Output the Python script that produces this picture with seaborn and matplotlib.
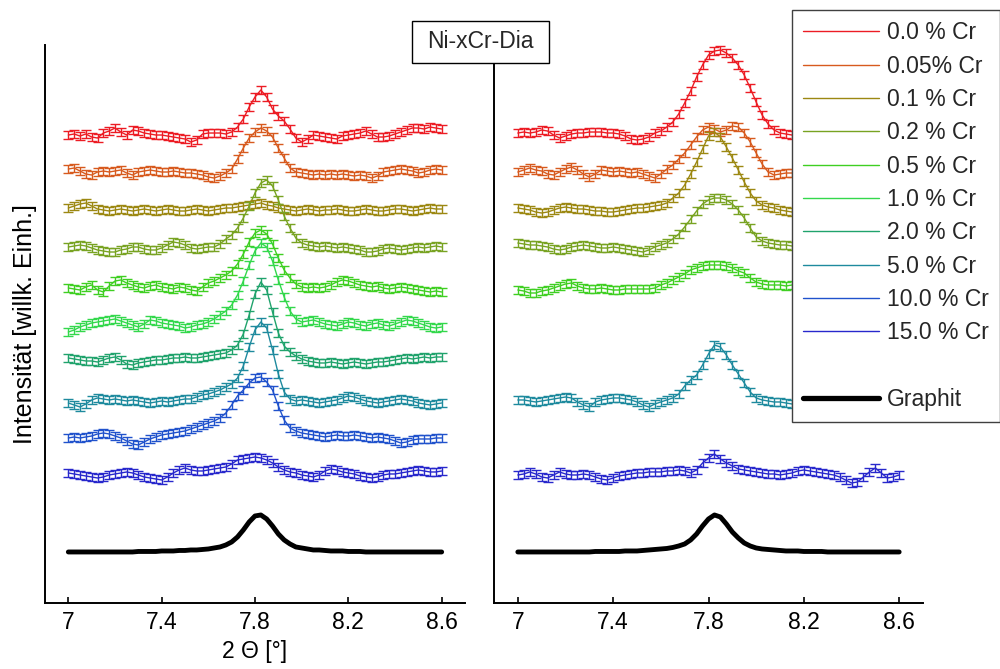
import numpy as np
import pandas as pd
import seaborn as sns
import matplotlib
matplotlib.use("Agg")
import matplotlib.pyplot as plt
from matplotlib.lines import Line2D
from matplotlib.patches import Rectangle

# 2-theta sampling grid (degrees)
THETA = np.round(7.0 + 0.025 * np.arange(65), 3)

SERIES = ["0.0 % Cr", "0.05% Cr", "0.1 % Cr", "0.2 % Cr", "0.5 % Cr",
          "1.0 % Cr", "2.0 % Cr", "5.0 % Cr", "10.0 % Cr", "15.0 % Cr"]
COLORS = ["#ec1c24", "#d75a1e", "#9c8812", "#78a322", "#3fcf22",
          "#33d84c", "#20a36c", "#1e8a9e", "#2052cc", "#2828cc"]

XTICKS = [7.0, 7.4, 7.8, 8.2, 8.6]
XTICKLABELS = ["7", "7.4", "7.8", "8.2", "8.6"]

# ---- left panel: intensity relative to each trace's baseline (arb. units)
L_00 = [0,1,-1,1,-2,-3,2,4,7,3, 0,5,4,2,1,0,0,-1,-2,-3, -4,-7,-5,1,2,2,2,1,3,8,
        16,28,38,45,38,26,19,14,6,-3, -7,-4,0,-1,-2,-3,-4,-1,0,1, 2,4,1,-2,-2,-1,1,3,5,7, 7,6,8,7,6]
L_005 = [3,4,1,-2,-3,0,1,0,1,2, -1,-3,0,1,2,1,0,0,1,0, -1,-1,-2,-3,-5,-6,-4,-1,3,13,
         24,34,40,44,41,35,24,14,4,0, -1,-2,-3,-2,-3,-2,-3,-2,-3,-4, -3,-4,-6,-4,0,1,2,3,2,1, -1,0,2,3,2]
L_01 = [2,4,6,7,4,1,0,-1,0,1, 0,-1,0,1,0,-1,0,1,0,-1, -1,0,1,0,-1,0,1,2,2,3,
        4,5,6,7,5,4,2,1,0,-1, 0,1,0,-1,0,0,1,0,-1,-1, 0,1,0,-1,-1,0,1,1,0,-1, 0,1,2,1,1]
L_02 = [1,2,3,2,0,-2,-3,-4,-4,-2, -1,1,1,-1,-2,-2,0,3,6,5, 3,0,-1,0,1,1,4,9,13,20,
        30,42,55,65,68,62,48,32,20,10, 5,3,2,1,2,1,0,1,0,-1, -2,-4,-4,-3,-1,0,-1,-2,-1,0, 1,0,1,2,1]
L_05 = [0,-1,-2,1,3,-2,-4,2,7,8, 5,3,1,0,2,3,1,0,-1,1, 0,-2,-3,1,5,7,10,13,17,24,
        34,46,55,58,54,44,30,18,10,4, 1,0,1,0,1,3,6,8,7,5, 3,2,1,2,0,-1,0,1,0,-1, -2,-3,-4,-3,-4]
L_10 = [-7,-5,-2,0,2,3,4,5,6,4, 2,0,-2,1,5,4,2,1,0,-1, -3,-2,0,1,3,6,10,14,20,30,
        44,60,74,82,78,64,45,28,14,6, 3,4,5,3,1,0,-1,1,3,2, 0,-1,1,2,0,-1,1,3,5,4, 2,0,-2,-3,-2]
L_20 = [2,1,0,-1,-1,-2,0,2,3,0, -4,-5,-3,-2,-1,0,0,1,2,2, 3,2,2,3,4,5,6,7,10,15,
        26,45,66,78,70,48,27,14,8,4, 1,-1,-2,-3,-3,-2,-3,-4,-3,-2, -3,-4,-3,-2,-2,-1,0,1,2,1, 2,3,2,3,3]
L_50 = [-1,-3,-5,-2,2,4,3,2,3,2, 1,2,1,0,-1,0,1,0,1,2, 3,3,5,7,8,10,12,15,18,24,
        36,55,72,80,74,52,28,10,3,1, 2,1,0,-1,0,1,2,4,6,5, 3,1,0,-1,0,1,2,3,2,1, -1,-2,-3,-2,-1]
L_100 = [0,1,0,1,2,4,5,4,2,0, -3,-6,-7,-4,-1,1,3,4,5,6, 7,9,11,13,15,17,20,25,33,42,
         48,55,60,61,56,48,32,18,10,7, 5,4,3,2,1,2,3,2,2,3, 2,1,0,1,0,-1,-3,-5,-4,-2, -1,-1,-1,0,0]
L_150 = [0,-1,-2,-3,-4,-5,-4,-2,-1,0, 1,0,-2,-4,-5,-6,-7,-4,0,3, 5,3,2,2,3,4,5,6,9,13,
         14,15,16,15,13,10,6,3,1,0, -2,-3,-4,-2,2,4,3,1,0,-1, -3,-4,-5,-4,-2,-1,-1,0,1,2, 3,2,1,1,2]
L_GRAPHIT = [0,0,0,0,0,0,0,0,0,0, 0,0,0.5,0.5,0.5,0.5,1,1,1,1.5, 1.5,2,2,2.5,3,4,5,7,10,15,
             22,30,36,37,33,26,18,12,8,5, 4,3,2,2,1.5,1,1,1,0.5,0.5, 0.5,0,0,0,0,0,0,0,0,0, 0,0,0,0,0]
L_SERIES = SERIES
L_TRACES = [L_00, L_005, L_01, L_02, L_05, L_10, L_20, L_50, L_100, L_150]
L_OFFSET = [468, 431, 393, 355, 315, 278, 243, 201, 165, 130]
L_GRAPHIT_OFFSET = 51

# ---- right panel
R_00 = [0,1,0,1,3,2,-2,-5,-3,-1, 0,0,1,1,1,0,0,-1,-3,-6, -7,-6,-4,0,2,6,11,19,30,42,
        56,68,78,82,83,80,75,68,58,45, 31,18,9,3,0,-1,-2,-2,-2,-1, 0,1,0,-1,0,1,2,1,0,-1, 0,1,2,1,0]
R_005 = [0,2,4,2,1,-2,-3,0,3,5, 2,-2,-5,-2,2,1,0,1,0,-1, 0,-2,-4,-6,-2,3,7,13,19,27,
         35,42,45,43,40,42,46,45,39,30, 19,8,0,-3,-2,-1,-1,0,0,1, 0,-1,0,1,2,1,0,-1,0,1, 0,-1,0,1,0]
R_01 = [2,1,0,-2,-3,-2,0,2,3,2, 1,1,0,-1,-1,-2,-2,-1,0,1, 2,2,3,4,5,7,12,17,25,36,
        48,61,74,78,73,63,52,40,28,17, 9,5,3,2,0,-1,-2,-2,-1,0, 1,0,-1,0,1,0,-1,0,1,0, -1,0,1,0,0]
R_02 = [2,1,0,0,-1,-2,-4,-5,-4,-2, -1,0,-1,-2,-3,-3,-2,-3,-4,-5, -6,-7,-5,-2,0,2,6,11,18,26,
        34,41,45,47,47,45,41,35,27,17, 8,4,2,1,0,0,-1,0,1,0, -1,0,1,0,-1,0,1,0,0,-1, 0,1,0,0,0]
R_05 = [0,-1,-3,-3,-1,0,2,4,6,7, 4,2,1,1,2,1,0,0,1,1, 1,1,1,2,5,7,10,13,16,20,
        22,24,25,25,25,24,22,19,17,12, 8,6,5,5,5,4,5,5,4,4, 5,4,4,3,4,4,3,3,4,3, 3,3,2,3,3]
R_50 = [0,0,-1,-2,-1,0,1,2,3,2, -2,-5,-7,-2,0,1,2,2,1,0, -2,-5,-7,-4,-2,0,2,6,14,20,
        25,35,46,55,53,45,35,26,17,8, 2,0,-1,-2,-2,-3,-4,-5,-4,-3, -2,-1,0,1,0,-1,0,1,0,-1, 0,1,0,0,0]
R_150 = [0,1,3,1,-2,-3,0,3,1,0, 0,1,0,-2,-4,-5,-3,-1,0,1, 2,2,3,3,3,4,4,5,4,2,
         5,12,17,21,16,12,9,6,5,4, 3,2,1,1,0,1,2,4,5,4, 3,2,1,0,-2,-5,-8,-7,-2,3, 7,2,-3,-2,0]
R_GRAPHIT = [0,0,0,0,0,0,0,0,0,0, 0,0,0,0.5,0.5,0.5,0.5,0.5,1,1, 1,1.5,2,2.5,3,3.5,4.5,6,8,12,
             18,26,33,37,35,28,20,14,9,6, 4,3,2.5,2,1.5,1,1,1,0.5,0.5, 0.5,0.5,0,0,0,0,0,0,0,0, 0,0,0,0,0]
R_SERIES = ["0.0 % Cr", "0.05% Cr", "0.1 % Cr", "0.2 % Cr", "0.5 % Cr", "5.0 % Cr", "15.0 % Cr"]
R_TRACES = [R_00, R_005, R_01, R_02, R_05, R_50, R_150]
R_OFFSET = [470, 431, 393, 358, 313, 203, 128]
R_GRAPHIT_OFFSET = 51

YERR = 3.6
FS = 16.5

sns.set_theme(style="white")
plt.rcParams["font.family"] = ["Liberation Sans", "DejaVu Sans"]
palette = dict(zip(SERIES, COLORS))

fig = plt.figure(figsize=(10, 6.69), dpi=100)
axL = fig.add_axes([0.045, 0.0987, 0.42, 0.834])
axR = fig.add_axes([0.494, 0.0987, 0.429, 0.834])


def draw_panel(ax, names, traces, offsets, graphit, g_off):
    rows = []
    for name, tr, off in zip(names, traces, offsets):
        for t, v in zip(THETA, tr):
            rows.append((name, t, v + off))
    df = pd.DataFrame(rows, columns=["series", "theta", "counts"])
    sns.lineplot(data=df, x="theta", y="counts", hue="series", hue_order=names,
                 palette=palette, estimator=None, sort=False, legend=False,
                 linewidth=1.0, ax=ax)
    for name in names:
        sub = df[df["series"] == name]
        ax.errorbar(sub["theta"], sub["counts"], yerr=YERR, fmt="none",
                    ecolor=palette[name], elinewidth=1.0, capsize=3.3,
                    capthick=1.0)
    gdf = pd.DataFrame({"theta": THETA, "counts": np.array(graphit) + g_off})
    sns.lineplot(data=gdf, x="theta", y="counts", color="black",
                 linewidth=3.5, ax=ax)
    ax.set_xlim(6.9, 8.7)
    ax.set_ylim(0, 558)
    ax.set_yticks([])
    ax.set_xticks(XTICKS)
    ax.set_xticklabels(XTICKLABELS)
    ax.set_xlabel("")
    ax.set_ylabel("")
    sns.despine(ax=ax)
    for s in ("left", "bottom"):
        ax.spines[s].set_color("black")
        ax.spines[s].set_linewidth(1.4)
    ax.tick_params(axis="x", direction="in", length=4, width=1.2,
                   pad=6, labelsize=FS, colors="black", bottom=True)


draw_panel(axL, L_SERIES, L_TRACES, L_OFFSET, L_GRAPHIT, L_GRAPHIT_OFFSET)
draw_panel(axR, R_SERIES, R_TRACES, R_OFFSET, R_GRAPHIT, R_GRAPHIT_OFFSET)

axL.set_ylabel("Intensität [willk. Einh.]", fontsize=18, labelpad=6, color="black")
axL.set_xlabel("2 \u0398 [\u00b0]", fontsize=FS, labelpad=4, color="black")

# title box
fig.add_artist(Rectangle((0.412, 1 - 63 / 669), 0.137, 42 / 669,
                         transform=fig.transFigure, facecolor="white",
                         edgecolor="black", linewidth=1.0, zorder=5))
fig.text(0.4805, 1 - 42 / 669, "Ni-xCr-Dia", ha="center", va="center",
         fontsize=FS, zorder=6)

# legend
handles = [Line2D([], [], color=c, lw=1.0) for c in COLORS]
handles.append(Line2D([], [], color="none"))
handles.append(Line2D([], [], color="black", lw=3.8))
labels = SERIES + [" ", "Graphit"]
leg = fig.legend(handles, labels, loc="upper right", bbox_to_anchor=(1.0, 0.985),
                 fontsize=FS, frameon=True, fancybox=False, edgecolor="#404040",
                 framealpha=1, handlelength=3.3, handletextpad=0.35,
                 labelspacing=0.45, borderpad=0.5, borderaxespad=0)
leg.get_frame().set_linewidth(1.0)
leg.set_zorder(10)

fig.savefig("out.png", dpi=100)
